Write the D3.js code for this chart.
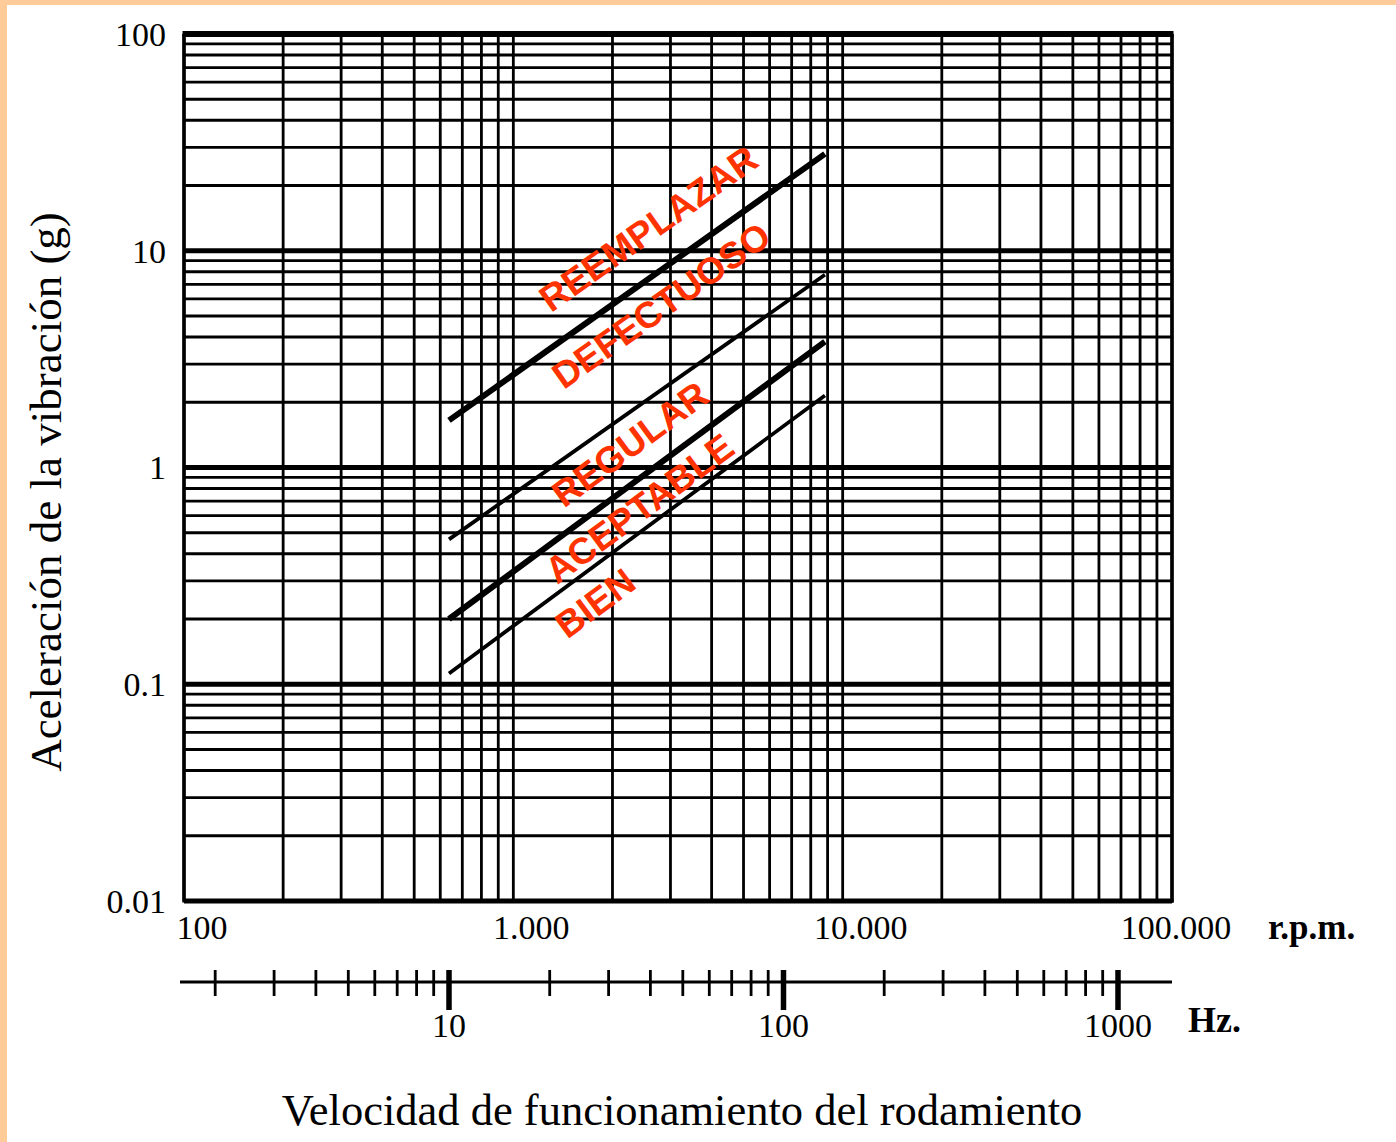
<!DOCTYPE html>
<html>
<head>
<meta charset="utf-8">
<script src="https://cdn.jsdelivr.net/npm/d3@7"></script>
<style>
    body { margin: 0; background: #fff; }
    #chart { width: 1396px; height: 1142px; }
</style>
</head>
<body>
<div id="chart"></div>
<script>
// rpm axis (top scale, grid)
let rpmTicks = [100, 1000, 10000, 100000];
let rpmLabels = ["100", "1.000", "10.000", "100.000"];
// acceleration axis
let gTicks = [0.01, 0.1, 1, 10, 100];
let gLabels = ["0.01", "0.1", "1", "10", "100"];
// Hz axis (bottom scale)
let hzMajor = [10, 100, 1000];
let hzLabels = ["10", "100", "1000"];
let hzMinor = [2, 3, 4, 5, 6, 7, 8, 9, 20, 30, 40, 50, 60, 70, 80, 90, 200, 300, 400, 500, 600, 700, 800, 900];
// zone limits: line from startHz to endHz (g values)
let zoneNames = ["REEMPLAZAR", "DEFECTUOSO", "REGULAR", "ACEPTABLE", "BIEN"];
let limitStartHz = [10, 10, 10, 10];
let limitEndHz = [133, 133, 133, 133];
let limitStartG = [1.65, 0.466, 0.2, 0.112];
let limitEndG = [28, 7.75, 3.81, 2.15];
let limitHeavy = [true, false, true, false];

let width = 1396, height = 1142;
let plotLeft = 184, plotRight = 1172, plotTop = 34, plotBottom = 901;

let svg = d3.select("#chart").append("svg")
    .attr("width", width)
    .attr("height", height)
    .style("font-family", "'Liberation Serif', 'Times New Roman', serif");

svg.append("rect").attr("width", width).attr("height", height).attr("fill", "#fff");
// peach frame (top and left edges)
svg.append("rect").attr("x", 0).attr("y", 0).attr("width", width).attr("height", 5).attr("fill", "#ffcc99");
svg.append("rect").attr("x", 0).attr("y", 0).attr("width", 7).attr("height", height).attr("fill", "#ffcc99");

let x = d3.scaleLog().domain([100, 100000]).range([plotLeft, plotRight]);
let y = d3.scaleLog().domain([0.01, 100]).range([plotBottom, plotTop]);
let hz = d3.scaleLog().domain([10, 1000]).range([449, 1118]);

function isDecade(v) {
    let e = Math.log10(v);
    return Math.abs(e - Math.round(e)) < 1e-6;
}

let grid = svg.append("g").attr("stroke", "#000").attr("fill", "none");

// vertical grid lines
grid.selectAll(".vline")
    .data(x.ticks())
    .enter()
    .append("line")
    .attr("class", "vline")
    .attr("x1", d => x(d)).attr("x2", d => x(d))
    .attr("y1", plotTop).attr("y2", plotBottom)
    .attr("stroke-width", 2.8);

// horizontal grid lines, decades heavier
grid.selectAll(".hline")
    .data(y.ticks())
    .enter()
    .append("line")
    .attr("class", "hline")
    .attr("x1", plotLeft).attr("x2", plotRight)
    .attr("y1", d => y(d)).attr("y2", d => y(d))
    .attr("stroke-width", d => isDecade(d) ? 4.8 : 2.8);

// frame
grid.append("line").attr("x1", plotLeft - 1.5).attr("x2", plotRight + 1.5).attr("y1", plotTop).attr("y2", plotTop).attr("stroke-width", 6);
grid.append("line").attr("x1", plotLeft).attr("x2", plotLeft).attr("y1", plotTop).attr("y2", plotBottom + 1.5).attr("stroke-width", 3.5);
grid.append("line").attr("x1", plotRight).attr("x2", plotRight).attr("y1", plotTop).attr("y2", plotBottom + 1.5).attr("stroke-width", 3.5);
grid.append("line").attr("x1", plotLeft).attr("x2", plotRight + 1.5).attr("y1", plotBottom).attr("y2", plotBottom).attr("stroke-width", 3.5);

// zone limit lines
let limits = limitStartG.map(function (g0, i) {
    return {
        x0: hz(limitStartHz[i]), y0: y(g0),
        x1: hz(limitEndHz[i]), y1: y(limitEndG[i]),
        heavy: limitHeavy[i]
    };
});

svg.selectAll(".limit")
    .data(limits)
    .enter()
    .append("line")
    .attr("class", "limit")
    .attr("x1", d => d.x0).attr("y1", d => d.y0)
    .attr("x2", d => d.x1).attr("y2", d => d.y1)
    .attr("stroke", "#000")
    .attr("stroke-width", d => d.heavy ? 6 : 3.8);

function limitY(i, px) {
    let l = limits[i];
    return l.y0 + (px - l.x0) * (l.y1 - l.y0) / (l.x1 - l.x0);
}

// zone labels: centre at a given Hz, offset from a reference limit line
let labelLayout = [
    {hz: 39.4, line: 0, dy: -51},
    {hz: 43, line: 0, dy: 35},
    {hz: 34.7, line: 2, dy: -42},
    {hz: 37, line: 3, dy: -25},
    {hz: 27.3, line: 3, dy: 37}
];

svg.selectAll(".zone")
    .data(zoneNames)
    .enter()
    .append("text")
    .attr("class", "zone")
    .attr("transform", function (d, i) {
        let lay = labelLayout[i];
        let l = limits[lay.line];
        let px = hz(lay.hz);
        let py = limitY(lay.line, px) + lay.dy;
        let angle = Math.atan2(l.y1 - l.y0, l.x1 - l.x0) * 180 / Math.PI;
        return "translate(" + px + "," + py + ") rotate(" + angle + ")";
    })
    .attr("text-anchor", "middle")
    .attr("dy", "0.36em")
    .attr("fill", "#ff3300")
    .style("font-family", "'Liberation Sans', Arial, sans-serif")
    .style("font-weight", "bold")
    .style("font-size", "37px")
    .text(d => d);

// y tick labels
svg.selectAll(".ylab")
    .data(gTicks)
    .enter()
    .append("text")
    .attr("class", "ylab")
    .attr("x", 166)
    .attr("y", d => y(d))
    .attr("dy", "0.35em")
    .attr("text-anchor", "end")
    .style("font-size", "34px")
    .text((d, i) => gLabels[i]);

// rpm tick labels
svg.selectAll(".xlab")
    .data(rpmTicks)
    .enter()
    .append("text")
    .attr("class", "xlab")
    .attr("x", d => Math.min(x(d) + 18, 1176))
    .attr("y", 939)
    .attr("text-anchor", "middle")
    .style("font-size", "34px")
    .text((d, i) => rpmLabels[i]);

svg.append("text")
    .attr("x", 1268).attr("y", 939)
    .style("font-size", "35px").style("font-weight", "bold")
    .text("r.p.m.");

// Hz axis
let hzAxis = svg.append("g").attr("stroke", "#000");
hzAxis.append("line")
    .attr("x1", 180).attr("x2", plotRight)
    .attr("y1", 982).attr("y2", 982)
    .attr("stroke-width", 3);
hzAxis.selectAll(".hzminor")
    .data(hzMinor)
    .enter()
    .append("line")
    .attr("class", "hzminor")
    .attr("x1", d => hz(d)).attr("x2", d => hz(d))
    .attr("y1", 970).attr("y2", 996)
    .attr("stroke-width", 2.8);
hzAxis.selectAll(".hzmajor")
    .data(hzMajor)
    .enter()
    .append("line")
    .attr("class", "hzmajor")
    .attr("x1", d => hz(d)).attr("x2", d => hz(d))
    .attr("y1", 970).attr("y2", 1010)
    .attr("stroke-width", 5.5);

svg.selectAll(".hzlab")
    .data(hzMajor)
    .enter()
    .append("text")
    .attr("class", "hzlab")
    .attr("x", d => hz(d))
    .attr("y", 1037)
    .attr("text-anchor", "middle")
    .style("font-size", "34px")
    .text((d, i) => hzLabels[i]);

svg.append("text")
    .attr("x", 1188).attr("y", 1032)
    .style("font-size", "36px").style("font-weight", "bold")
    .text("Hz.");

// axis titles
svg.append("text")
    .attr("x", 682).attr("y", 1125)
    .attr("text-anchor", "middle")
    .style("font-size", "44.5px")
    .text("Velocidad de funcionamiento del rodamiento");

svg.append("text")
    .attr("transform", "translate(61,492) rotate(-90)")
    .attr("text-anchor", "middle")
    .style("font-size", "45px")
    .text("Aceleración de la vibración (g)");
</script>
</body>
</html>
